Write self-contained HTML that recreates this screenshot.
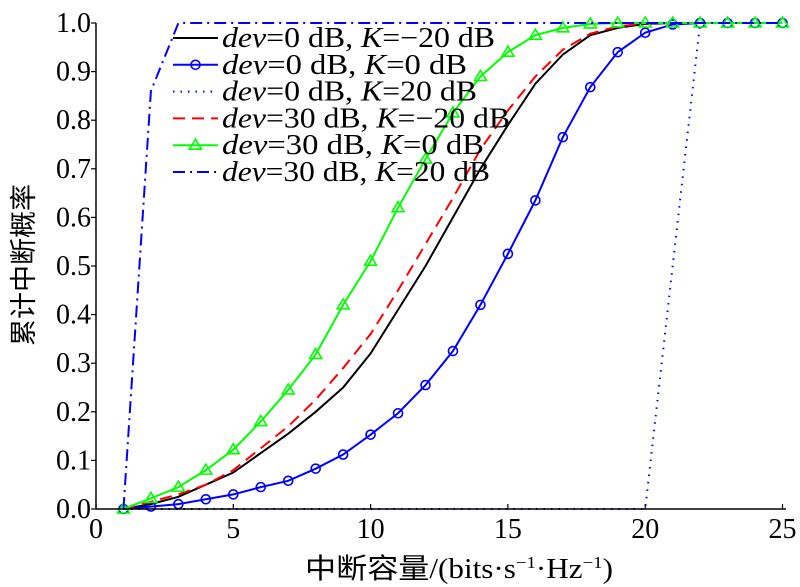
<!DOCTYPE html>
<html><head><meta charset="utf-8"><style>
html,body{margin:0;padding:0;background:#fff;width:800px;height:587px;overflow:hidden}
</style></head><body>
<svg id="chart" width="800" height="587" xmlns="http://www.w3.org/2000/svg" font-family="'Liberation Serif', 'Noto Sans CJK SC', serif">
<g id="series"></g>
<g id="axes"></g>
<g id="legend"></g>
</svg>
<script>
const xValues=[1,2,3,4,5,6,7,8,9,10,11,12,13,14,15,16,17,18,19,20,21,22,23,24,25];
const dev0K_20=[0,0.01,0.025,0.05,0.075,0.115,0.155,0.2,0.25,0.32,0.41,0.5,0.6,0.7,0.79,0.875,0.935,0.975,0.99,0.998,1,1,1,1,1];
const dev0K0=[0,0.005,0.01,0.02,0.03,0.045,0.058,0.083,0.112,0.153,0.197,0.255,0.325,0.42,0.525,0.635,0.765,0.868,0.94,0.98,0.997,1,1,1,1];
const dev0K20=[0,0,0,0,0,0,0,0,0,0,0,0,0,0,0,0,0,0,0,0,0.5,1,1,1,1];
const dev30K_20=[0,0.015,0.03,0.05,0.08,0.125,0.17,0.225,0.29,0.36,0.45,0.545,0.64,0.74,0.82,0.89,0.945,0.978,0.993,0.999,1,1,1,1,1];
const dev30K0=[0,0.022,0.045,0.08,0.122,0.18,0.245,0.318,0.42,0.51,0.62,0.72,0.815,0.89,0.94,0.975,0.99,0.998,1,1,1,1,1,1,1];
const dev30K20=[0,0.86,1,1,1,1,1,1,1,1,1,1,1,1,1,1,1,1,1,1,1,1,1,1,1];
const xTicks=[0,5,10,15,20,25];
const yTicks=[0,0.1,0.2,0.3,0.4,0.5,0.6,0.7,0.8,0.9,1.0];
const legendLabels=[["dev","=0 dB, ","K","=−20 dB"],["dev","=0 dB, ","K","=0 dB"],["dev","=0 dB, ","K","=20 dB"],["dev","=30 dB, ","K","=−20 dB"],["dev","=30 dB, ","K","=0 dB"],["dev","=30 dB, ","K","=20 dB"]];
const legendWidths=[273,245,255,288,262,268];

const X0=96,X1=782.5,Y0=509,Y1=23;
const sx=v=>X0+(v-0)/(25-0)*(X1-X0);
const sy=v=>Y0-(v-0)/(1-0)*(Y0-Y1);
const NS="http://www.w3.org/2000/svg";
const SERIF="'Liberation Serif', 'Noto Serif CJK SC', serif";
function mk(t,a,p){const e=document.createElementNS(NS,t);for(const k in a)e.setAttribute(k,a[k]);p.appendChild(e);return e;}
const S=document.getElementById('series'),A=document.getElementById('axes'),L=document.getElementById('legend');

const styles=[
 {data:dev0K_20,color:'#000',dash:'',marker:null,name:'dev0-k-neg20'},
 {data:dev0K0,color:'#0000ff',dash:'',marker:'circle',name:'dev0-k0'},
 {data:dev0K20,color:'#0000ff',dash:'1.5 6',marker:null,name:'dev0-k20'},
 {data:dev30K_20,color:'#ff0000',dash:'12 7',marker:null,name:'dev30-k-neg20'},
 {data:dev30K0,color:'#00ff00',dash:'',marker:'tri',name:'dev30-k0'},
 {data:dev30K20,color:'#0000ff',dash:'12 5 2 5',marker:null,name:'dev30-k20'}
];
function marker(type,x,y,color,parent){
  let m;
  if(type==='circle'){m=mk('circle',{cx:x,cy:y,r:4.5,fill:'none',stroke:color,'stroke-width':1.6},parent);}
  else {m=mk('polygon',{points:`${x},${y-6} ${x-6},${y+4} ${x+6},${y+4}`,fill:'none',stroke:color,'stroke-width':1.6},parent);}
  
  
}
styles.forEach(s=>{
  const g=mk('g',{},S);
  
  
  const pts=xValues.map((x,i)=>sx(x)+','+sy(s.data[i])).join(' ');
  const pl=mk('polyline',{points:pts,fill:'none',stroke:s.color,'stroke-width':2,'stroke-dasharray':s.dash},g);
  
  
  if(s.marker) xValues.forEach((x,i)=>marker(s.marker,sx(x),sy(s.data[i]),s.color,g));
});

let ax=mk('line',{x1:X0,y1:Y0,x2:786,y2:Y0,stroke:'#000','stroke-width':1.5},A);


let ay=mk('line',{x1:X0,y1:Y0,x2:X0,y2:Y1,stroke:'#000','stroke-width':1.5},A);


xTicks.forEach(t=>{
  mk('line',{x1:sx(t),y1:Y0,x2:sx(t),y2:Y0-5,stroke:'#000','stroke-width':1.2},A);
  const tx=mk('text',{x:sx(t),y:538,'text-anchor':'middle','font-size':28,'font-family':SERIF},A);
  tx.textContent=t;
  
  
});
yTicks.forEach(t=>{
  mk('line',{x1:X0,y1:sy(t),x2:X0-5,y2:sy(t),stroke:'#000','stroke-width':1.2},A);
  const tx=mk('text',{x:91,y:sy(t)+9,'text-anchor':'end','font-size':28,'font-family':SERIF},A);
  tx.textContent=t.toFixed(1);
  
  
});
const xl=mk('text',{x:305,y:578,'font-size':28,textLength:308,lengthAdjust:'spacingAndGlyphs','font-family':"'Liberation Serif','Noto Sans CJK SC',serif"},A);
xl.innerHTML='<tspan font-family="Noto Sans CJK SC, sans-serif">中断容量</tspan>/(bits·s<tspan dy="-10" font-size="17">−1</tspan><tspan dy="10">·Hz</tspan><tspan dy="-10" font-size="17">−1</tspan><tspan dy="10">)</tspan>';


const yl=mk('text',{x:0,y:0,'text-anchor':'middle','font-size':27,'font-family':"'Noto Sans CJK SC', sans-serif",transform:'translate(33,265) rotate(-90)'},A);
yl.textContent='累计中断概率';



styles.forEach((s,i)=>{
  const y=38+26.8*i;
  const g=mk('g',{},L);
  
  
  mk('line',{x1:173,y1:y,x2:218,y2:y,stroke:s.color,'stroke-width':2,'stroke-dasharray':s.dash},g);
  if(s.marker){
    if(s.marker==='circle') mk('circle',{cx:195.5,cy:y,r:4.5,fill:'none',stroke:s.color,'stroke-width':1.6},g);
    else mk('polygon',{points:`195.5,${y-6} 189.5,${y+4} 201.5,${y+4}`,fill:'none',stroke:s.color,'stroke-width':1.6},g);
  }
  const lb=legendLabels[i];
  const t=mk('text',{x:222,y:y+9,'font-size':28,'font-family':SERIF,textLength:legendWidths[i],lengthAdjust:'spacingAndGlyphs'},g);
  t.innerHTML=`<tspan font-style="italic">${lb[0]}</tspan>${lb[1]}<tspan font-style="italic">${lb[2]}</tspan>${lb[3]}`;
});
</script>
</body></html>
